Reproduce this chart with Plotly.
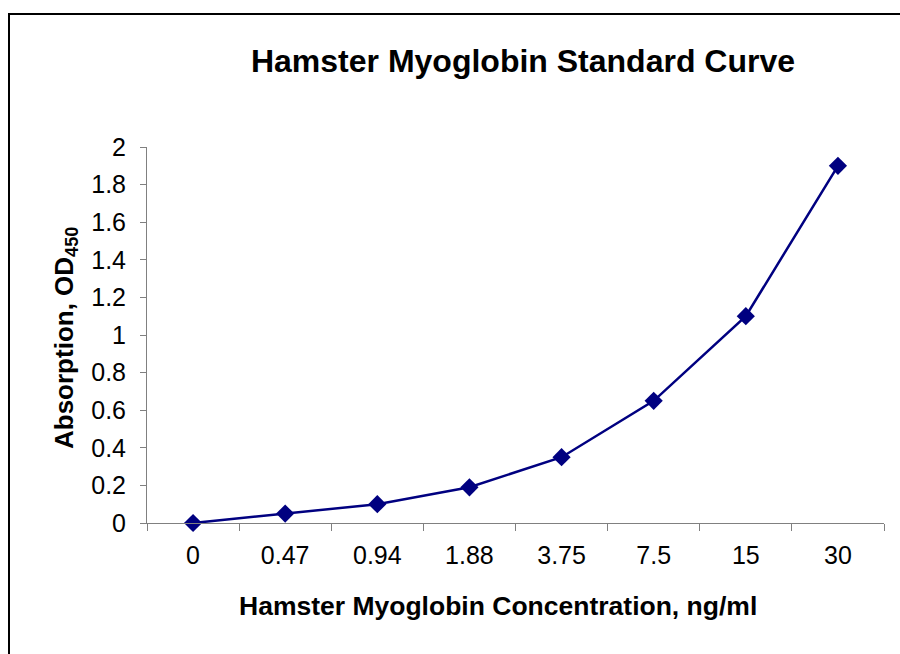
import plotly.graph_objects as go

concentrations = ["0", "0.47", "0.94", "1.88", "3.75", "7.5", "15", "30"]
absorbance = [0.0, 0.05, 0.10, 0.19, 0.35, 0.65, 1.10, 1.90]

y_ticks = [0, 0.2, 0.4, 0.6, 0.8, 1, 1.2, 1.4, 1.6, 1.8, 2]
y_tick_text = ["0", "0.2", "0.4", "0.6", "0.8", "1", "1.2", "1.4", "1.6", "1.8", "2"]

FONT = "Arial, Liberation Sans, sans-serif"
NAVY = "#000080"
AXIS = "#808080"

W, H = 900, 654
L, R, T, B = 147, 16, 147, 131
PW, PH = W - L - R, H - T - B


def px(x):
    return (x - L) / PW


def py(y):
    return (H - B - y) / PH


fig = go.Figure()
fig.add_trace(go.Scatter(
    x=concentrations, y=absorbance, mode="lines+markers",
    line=dict(color=NAVY, width=2.5),
    marker=dict(symbol="diamond", size=14, color=NAVY),
    cliponaxis=False, showlegend=False,
))

fig.update_layout(
    width=W, height=H,
    margin=dict(l=L, r=R, t=T, b=B),
    paper_bgcolor="white", plot_bgcolor="white",
    font=dict(family=FONT, color="black"),
    title=dict(text="<b>Hamster Myoglobin Standard Curve</b>",
               font=dict(size=32, family=FONT, color="black"),
               x=523 / W, xanchor="center", xref="container",
               y=1 - 61 / H, yanchor="middle", yref="container"),
    xaxis=dict(type="category", range=[-0.5, 7.5],
               showline=True, linecolor=AXIS, linewidth=1,
               ticks="outside", ticklen=7, tickcolor=AXIS, tickwidth=1,
               tickson="boundaries", showgrid=False, zeroline=False,
               tickfont=dict(size=25, family=FONT, color="black"),
               ticklabelstandoff=10),
    yaxis=dict(range=[0, 2], tickvals=y_ticks, ticktext=y_tick_text,
               showline=True, linecolor=AXIS, linewidth=1,
               ticks="outside", ticklen=6, tickcolor=AXIS, tickwidth=1,
               showgrid=False, zeroline=False,
               tickfont=dict(size=25, family=FONT, color="black"),
               ticklabelstandoff=9),
    annotations=[
        dict(text="<b>Hamster Myoglobin Concentration, ng/ml</b>",
             xref="paper", yref="paper", x=px(497.5), y=py(606),
             xanchor="center", yanchor="middle", showarrow=False,
             font=dict(size=26.5, family=FONT, color="black")),
        dict(text="<b>Absorption, OD<sub>450</sub></b>",
             xref="paper", yref="paper", x=px(65), y=py(338),
             xanchor="center", yanchor="middle", showarrow=False, textangle=-90,
             font=dict(size=26, family=FONT, color="black")),
    ],
    shapes=[
        dict(type="rect", xref="paper", yref="paper",
             x0=px(9), x1=px(910), y0=py(670), y1=py(14),
             line=dict(color="black", width=2), fillcolor="rgba(0,0,0,0)",
             layer="below"),
    ],
)

fig.write_html(
    "out.html",
    config={"displayModeBar": False},
    post_script="document.body.style.margin='0';document.body.style.overflow='hidden';",
)
